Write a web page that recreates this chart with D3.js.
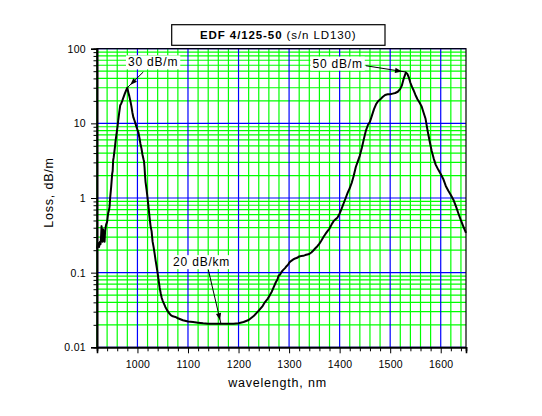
<!DOCTYPE html>
<html>
<head>
<meta charset="utf-8">
<script src="https://cdn.jsdelivr.net/npm/d3@7"></script>
<style>
  html, body { margin: 0; padding: 0; background: #fff; }
  svg { display: block; font-family: "Liberation Sans", Arial, sans-serif; }
</style>
</head>
<body>
<svg id="chart" width="542" height="416"></svg>
<script>
// ---- data ----
const wavelength = [920,922,924,926,927,928,929,930,931,932,933,934,935,936,937,938,940,942,944,945,946,948,950,951,952,953,955,957,959,961,962,964,966,968,970,972,975,978,980,982,984,986,988,990,992,994,996,998,1000,1002,1004,1006,1008,1010,1012,1013,1014,1015,1016,1018,1020,1022,1024,1026,1028,1030,1032,1034,1036,1038,1040,1042,1044,1046,1048,1050,1052,1055,1058,1062,1066,1070,1075,1080,1090,1100,1110,1120,1130,1140,1150,1160,1170,1180,1190,1200,1210,1220,1230,1240,1248,1252,1258,1262,1266,1270,1274,1277,1279,1280,1282,1285,1288,1292,1295,1298,1300,1302,1305,1308,1312,1316,1320,1324,1328,1332,1336,1340,1344,1348,1352,1356,1360,1364,1368,1372,1376,1380,1384,1388,1392,1396,1400,1404,1408,1412,1416,1420,1424,1428,1432,1436,1440,1444,1448,1452,1456,1460,1464,1468,1472,1476,1480,1485,1490,1495,1500,1505,1510,1515,1520,1523,1526,1528,1531,1534,1537,1540,1543,1546,1550,1554,1558,1562,1566,1570,1574,1578,1582,1586,1590,1595,1600,1605,1610,1615,1620,1625,1630,1635,1640,1645,1650];
const loss = [0.21,0.25,0.22,0.26,0.24,0.30,0.42,0.30,0.26,0.38,0.27,0.33,0.26,0.36,0.40,0.44,0.48,0.62,0.70,0.78,1.0,1.4,2.1,2.3,3.2,3.5,4.5,6.0,7.5,9.5,11,14,17.5,18.5,20,22,25,28,30,26,23,20,17,14,12,11,10,9,8.2,7.5,6.4,5.3,4.6,3.8,3.3,3.1,2.6,2.0,1.65,1.3,1.0,0.75,0.55,0.42,0.36,0.26,0.22,0.18,0.145,0.12,0.098,0.078,0.063,0.053,0.046,0.042,0.039,0.035,0.032,0.029,0.027,0.026,0.0255,0.0245,0.023,0.0222,0.0218,0.0214,0.021,0.0207,0.0206,0.0206,0.0206,0.0206,0.0207,0.021,0.0218,0.0232,0.0262,0.031,0.036,0.040,0.045,0.050,0.056,0.065,0.075,0.081,0.090,0.092,0.094,0.102,0.108,0.115,0.122,0.128,0.135,0.140,0.145,0.150,0.155,0.158,0.165,0.167,0.168,0.172,0.175,0.178,0.186,0.198,0.212,0.226,0.245,0.27,0.30,0.33,0.36,0.39,0.44,0.49,0.52,0.55,0.62,0.72,0.85,1.0,1.18,1.35,1.6,2.0,2.6,3.1,3.7,4.7,6.2,8.0,9.5,10.5,12.8,15.5,18,19.8,20.8,22.5,24,24.5,24.5,25,25.5,26.5,29,32,38,42,48,46,41,35,31,28,24,21,19,17,14,11.5,8,5.8,4.3,3.4,2.8,2.4,2.1,1.8,1.45,1.25,1.1,0.95,0.78,0.62,0.50,0.41,0.34];

const xMajorTicks = [1000,1100,1200,1300,1400,1500,1600];
const yMajorTicks = [0.01,0.1,1,10,100];
const yTickLabels = ["0.01","0.1","1","10","100"];

const titleBold = "EDF  4/125-50";
const titleNormal = " (s/n LD130)";
const xLabel = "wavelength, nm";
const yLabel = "Loss, dB/m";

// annotations: text anchor, line start, arrow tip (data coords)
const annText  = ["30 dB/m", "50 dB/m", "20 dB/km"];
const annTextX = [1031, 1396, 1127];
const annTextY = [66, 63.5, 0.139];
const annFromX = [1011.6, 1452, 1140.2];
const annFromY = [48.8, 59.1, 0.1096];
const annToX   = [980, 1531.3, 1165.3];
const annToY   = [30, 48.7, 0.0205];

// ---- layout ----
const svg = d3.select("#chart");
const L = 97, T = 48.7, W = 369, H = 298.6;

const x = d3.scaleLinear().domain([920, 1650]).range([L, L + W]);
const y = d3.scaleLog().domain([0.01, 100]).range([T + H, T]);

// grid values
const xGrid = d3.range(920, 1651, 20);
const yGrid = [];
for (let d = -2; d < 2; d++) for (let k = 1; k <= 9; k++) yGrid.push(+(k * Math.pow(10, d)).toPrecision(3));
yGrid.push(100);
const yMinor = yGrid.filter(v => !yMajorTicks.includes(v));
const xMinor = xGrid.filter(v => v % 100 !== 0);

const grid = svg.append("g");
// green minor
grid.selectAll("line.vg").data(xMinor).join("line")
  .attr("x1", d => x(d)).attr("x2", d => x(d)).attr("y1", T).attr("y2", T + H)
  .attr("stroke", "#00ff00").attr("stroke-width", 1.2);
grid.selectAll("line.hg").data(yMinor).join("line")
  .attr("y1", d => y(d)).attr("y2", d => y(d)).attr("x1", L).attr("x2", L + W)
  .attr("stroke", "#00ff00").attr("stroke-width", 1.2);
// blue major
grid.selectAll("line.vb").data(xMajorTicks).join("line")
  .attr("x1", d => x(d)).attr("x2", d => x(d)).attr("y1", T).attr("y2", T + H)
  .attr("stroke", "#0000ff").attr("stroke-width", 1.2);
grid.selectAll("line.hb").data(yMajorTicks).join("line")
  .attr("y1", d => y(d)).attr("y2", d => y(d)).attr("x1", L).attr("x2", L + W)
  .attr("stroke", "#0000ff").attr("stroke-width", 1.2);

// frame
svg.append("rect").attr("x", L).attr("y", T).attr("width", W).attr("height", H)
  .attr("fill", "none").attr("stroke", "#000").attr("stroke-width", 1.2);

// axes
const axX = svg.append("g").attr("transform", `translate(0,${T + H})`);
axX.call(d3.axisBottom(x).tickValues(xMinor).tickSize(4).tickFormat(""));
const axXM = svg.append("g").attr("transform", `translate(0,${T + H})`);
axXM.call(d3.axisBottom(x).tickValues(xMajorTicks).tickSize(6).tickPadding(5).tickFormat(d3.format("d")));

const axY = svg.append("g").attr("transform", `translate(${L},0)`);
axY.call(d3.axisLeft(y).tickValues(yMinor).tickSize(3.5).tickFormat(""));
const axYM = svg.append("g").attr("transform", `translate(${L},0)`);
axYM.call(d3.axisLeft(y).tickValues(yMajorTicks).tickSize(6).tickPadding(5)
  .tickFormat((d, i) => yTickLabels[i]));

[axX, axXM, axY, axYM].forEach(g => {
  g.select(".domain").attr("stroke", "#000").attr("stroke-width", 1.6);
  g.selectAll(".tick line").attr("stroke", "#000").attr("stroke-width", 1);
  g.selectAll("text").attr("fill", "#000").style("font-size", "10.5px")
    .style("font-family", '"Liberation Sans", Arial, sans-serif').style("letter-spacing", "0.3px");
});
axXM.selectAll("text").attr("dy", "0.9em");

// curve
const pts = wavelength.map((w, i) => [w, loss[i]]);
svg.append("path").datum(pts)
  .attr("d", d3.line().x(d => x(d[0])).y(d => y(d[1])))
  .attr("fill", "none").attr("stroke", "#000").attr("stroke-width", 2)
  .attr("stroke-linejoin", "round");

// annotations
annText.forEach((t, i) => {
  const x1 = x(annFromX[i]), y1 = y(annFromY[i]);
  const x2 = x(annToX[i]), y2 = y(annToY[i]);
  svg.append("line").attr("x1", x1).attr("y1", y1).attr("x2", x2).attr("y2", y2)
    .attr("stroke", "#000").attr("stroke-width", 1);
  // arrowhead slightly before the end
  const ang = Math.atan2(y2 - y1, x2 - x1);
  const back = 4;
  const tx = x2 - back * Math.cos(ang), ty = y2 - back * Math.sin(ang);
  const len = 7, half = 2.6;
  const bx = tx - len * Math.cos(ang), by = ty - len * Math.sin(ang);
  const px = -Math.sin(ang) * half, py = Math.cos(ang) * half;
  svg.append("path")
    .attr("d", `M${tx},${ty}L${bx + px},${by + py}L${bx - px},${by - py}Z`)
    .attr("fill", "#000");

  const tg = svg.append("g");
  const txt = tg.append("text").attr("x", x(annTextX[i])).attr("y", y(annTextY[i]))
    .attr("text-anchor", "middle").attr("dy", "0.35em")
    .style("font-size", "12px").style("letter-spacing", "0.8px").attr("fill", "#000").text(t);
  const bb = txt.node().getBBox();
  tg.insert("rect", "text").attr("x", bb.x - 2).attr("y", bb.y).attr("width", bb.width + 4)
    .attr("height", bb.height).attr("fill", "#fff");
});

// title box
svg.append("rect").attr("x", 171.7).attr("y", 24.7).attr("width", 213.3).attr("height", 20.6)
  .attr("fill", "#fff").attr("stroke", "#000").attr("stroke-width", 1.2);
const title = svg.append("text").attr("x", 278.3).attr("y", 39.3).attr("text-anchor", "middle")
  .style("font-size", "11.5px").style("letter-spacing", "0.9px").attr("fill", "#000");
title.append("tspan").style("font-weight", "bold").text(titleBold);
title.append("tspan").text(titleNormal);

// axis labels
svg.append("text").attr("x", x(920) + W / 2 - 4).attr("y", 386.5).attr("text-anchor", "middle")
  .style("font-size", "12.5px").style("letter-spacing", "0.8px").attr("fill", "#000").text(xLabel);
svg.append("text").attr("transform", `translate(52.5,${192.5}) rotate(-90)`).attr("text-anchor", "middle")
  .style("font-size", "12.5px").style("letter-spacing", "0.8px").attr("fill", "#000").text(yLabel);
</script>
</body>
</html>
